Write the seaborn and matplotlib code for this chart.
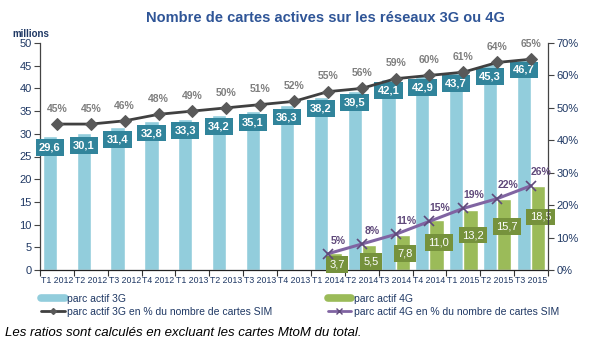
import numpy as np
import pandas as pd
import matplotlib
matplotlib.use("Agg")
import matplotlib.pyplot as plt
import seaborn as sns
from matplotlib.lines import Line2D

categories = ["T1 2012", "T2 2012", "T3 2012", "T4 2012", "T1 2013", "T2 2013",
              "T3 2013", "T4 2013", "T1 2014", "T2 2014", "T3 2014", "T4 2014",
              "T1 2015", "T2 2015", "T3 2015"]
parc_3g = [29.6, 30.1, 31.4, 32.8, 33.3, 34.2, 35.1, 36.3, 38.2, 39.5, 42.1, 42.9, 43.7, 45.3, 46.7]
pct_3g = [45, 45, 46, 48, 49, 50, 51, 52, 55, 56, 59, 60, 61, 64, 65]
categories_4g = ["T1 2014", "T2 2014", "T3 2014", "T4 2014", "T1 2015", "T2 2015", "T3 2015"]
parc_4g = [3.7, 5.5, 7.8, 11.0, 13.2, 15.7, 18.5]
pct_4g = [5, 8, 11, 15, 19, 22, 26]
left_ticks = [0, 5, 10, 15, 20, 25, 30, 35, 40, 45, 50]
right_ticks = [0, 10, 20, 30, 40, 50, 60, 70]

C3G = "#92cddc"
C3G_BOX = "#31849b"
C4G = "#9bbb59"
C4G_BOX = "#76923c"
CLINE3 = "#404040"
CMARK3 = "#595959"
CLINE4 = "#8064a2"
CMARK4 = "#604a7b"
NAVY = "#1f3864"
TITLE = "#2f5597"

sns.set_theme(style="white")
plt.rcParams["font.family"] = ["Liberation Sans", "DejaVu Sans"]

df = pd.DataFrame({
    "periode": categories + categories_4g,
    "valeur": parc_3g + parc_4g,
    "serie": ["parc actif 3G"] * len(categories) + ["parc actif 4G"] * len(categories_4g),
})

fig = plt.figure(figsize=(5.93, 3.46), dpi=100)
ax = fig.add_axes([40 / 593, 76 / 346, 508 / 593, 227 / 346])

sns.barplot(data=df, x="periode", y="valeur", hue="serie", order=categories,
            hue_order=["parc actif 3G", "parc actif 4G"], palette=[C3G, C4G],
            width=0.84, saturation=1, errorbar=None, legend=False, ax=ax)

ax.set_xlim(-0.5, len(categories) - 0.5)
ax.set_ylim(0, 50)
ax.set_yticks(left_ticks)
ax.set_yticklabels([str(t) for t in left_ticks], fontsize=8, color=NAVY)
ax.set_xticks(np.arange(len(categories)))
ax.set_xticklabels(categories, fontsize=6.3, color=NAVY)
ax.set_xticks(np.arange(len(categories) + 1) - 0.5, minor=True)
ax.tick_params(axis="x", which="major", length=0, pad=4)
ax.tick_params(axis="x", which="minor", length=4, width=0.8, color="#333333", direction="out", bottom=True)
ax.tick_params(axis="y", which="major", length=4, width=0.8, color="#444444", direction="out", left=True, pad=2)
ax.set_xlabel("")
ax.set_ylabel("")
for s in ["top", "right"]:
    ax.spines[s].set_visible(False)
ax.spines["left"].set_color("#444444")
ax.spines["bottom"].set_color("#222222")
ax.spines["left"].set_linewidth(0.9)
ax.spines["bottom"].set_linewidth(0.9)

ax2 = ax.twinx()
x3 = np.arange(len(categories))
x4 = np.array([categories.index(c) for c in categories_4g])
sns.lineplot(x=x3, y=pct_3g, ax=ax2, color=CLINE3, linewidth=2, marker="D",
             markersize=6, markerfacecolor=CMARK3, markeredgecolor=CMARK3, zorder=3)
sns.lineplot(x=x4, y=pct_4g, ax=ax2, color=CLINE4, linewidth=2.2, marker="x",
             markersize=7, markeredgecolor=CMARK4, markeredgewidth=1.2, zorder=3)
ax2.set_xlim(-0.5, len(categories) - 0.5)
ax2.set_ylim(0, 70)
ax2.set_yticks(right_ticks)
ax2.set_yticklabels([f"{t}%" for t in right_ticks], fontsize=8, color=NAVY)
ax2.tick_params(axis="y", length=4, width=0.8, color="#444444", direction="out", right=True, pad=2)
for s in ["top", "left", "bottom"]:
    ax2.spines[s].set_visible(False)
ax2.spines["right"].set_color("#444444")
ax2.spines["right"].set_linewidth(0.9)
ax2.set_ylabel("")
ax2.grid(False)

# 3G value labels (placed with the bar axis coordinates, drawn above everything)
for i, v in enumerate(parc_3g):
    ax2.annotate(f"{v:.1f}".replace(".", ","), xy=(i - 0.21, v), xycoords=ax.transData,
                 xytext=(0, -8.6), textcoords="offset points", ha="center", va="center",
                 color="white", fontweight="bold", fontsize=8, zorder=2,
                 bbox=dict(boxstyle="square,pad=0.3", fc=C3G_BOX, ec="none"))
# 4G value labels
for c, v in zip(categories_4g, parc_4g):
    i = categories.index(c)
    ax2.annotate(f"{v:.1f}".replace(".", ","), xy=(i + 0.28, max(0.75 * v - 2.2, 1.25)),
                 xycoords=ax.transData, ha="center", va="center", color="white",
                 fontsize=8, zorder=2,
                 bbox=dict(boxstyle="square,pad=0.3", fc=C4G_BOX, ec="none"))

for i, p in zip(x3, pct_3g):
    ax2.annotate(f"{p}%", xy=(i, p), xytext=(0, 11), textcoords="offset points",
                 ha="center", va="center", color="#7f7f7f", fontweight="bold", fontsize=7.5)
for i, p in zip(x4, pct_4g):
    ax2.annotate(f"{p}%", xy=(i, p), xytext=(7.5, 9.5), textcoords="offset points",
                 ha="center", va="center", color=CMARK4, fontweight="bold", fontsize=7.5)

fig.text(325 / 593, 1 - 18 / 346, "Nombre de cartes actives sur les réseaux 3G ou 4G",
         ha="center", va="center", fontsize=10.5, fontweight="bold", color=TITLE)
fig.text(12 / 593, 1 - 34 / 346, "millions", ha="left", va="center", fontsize=7,
         fontweight="bold", color=NAVY)

handles = [
    Line2D([], [], color=C3G, linewidth=5.5),
    Line2D([], [], color=CLINE3, linewidth=2, marker="D", markersize=3, markerfacecolor=CMARK3, markeredgecolor=CMARK3),
    Line2D([], [], color=C4G, linewidth=5.5),
    Line2D([], [], color=CLINE4, linewidth=2, marker="x", markersize=4, markeredgecolor=CMARK4),
]
labels = ["parc actif 3G", "parc actif 3G en % du nombre de cartes SIM",
          "parc actif 4G", "parc actif 4G en % du nombre de cartes SIM"]
leg = fig.legend(handles, labels, loc="upper left", bbox_to_anchor=(41 / 593, 1 - 294 / 346),
                 ncol=2, frameon=False, fontsize=7.5, handlelength=2.3, handletextpad=0.2,
                 labelspacing=0.3, columnspacing=5.3, borderpad=0, borderaxespad=0)
for t in leg.get_texts():
    t.set_color(NAVY)

fig.text(5 / 593, 1 - 333 / 346, "Les ratios sont calculés en excluant les cartes MtoM du total.",
         ha="left", va="center", fontsize=9.5, style="italic", color="black")

fig.savefig("out.png", dpi=100)
